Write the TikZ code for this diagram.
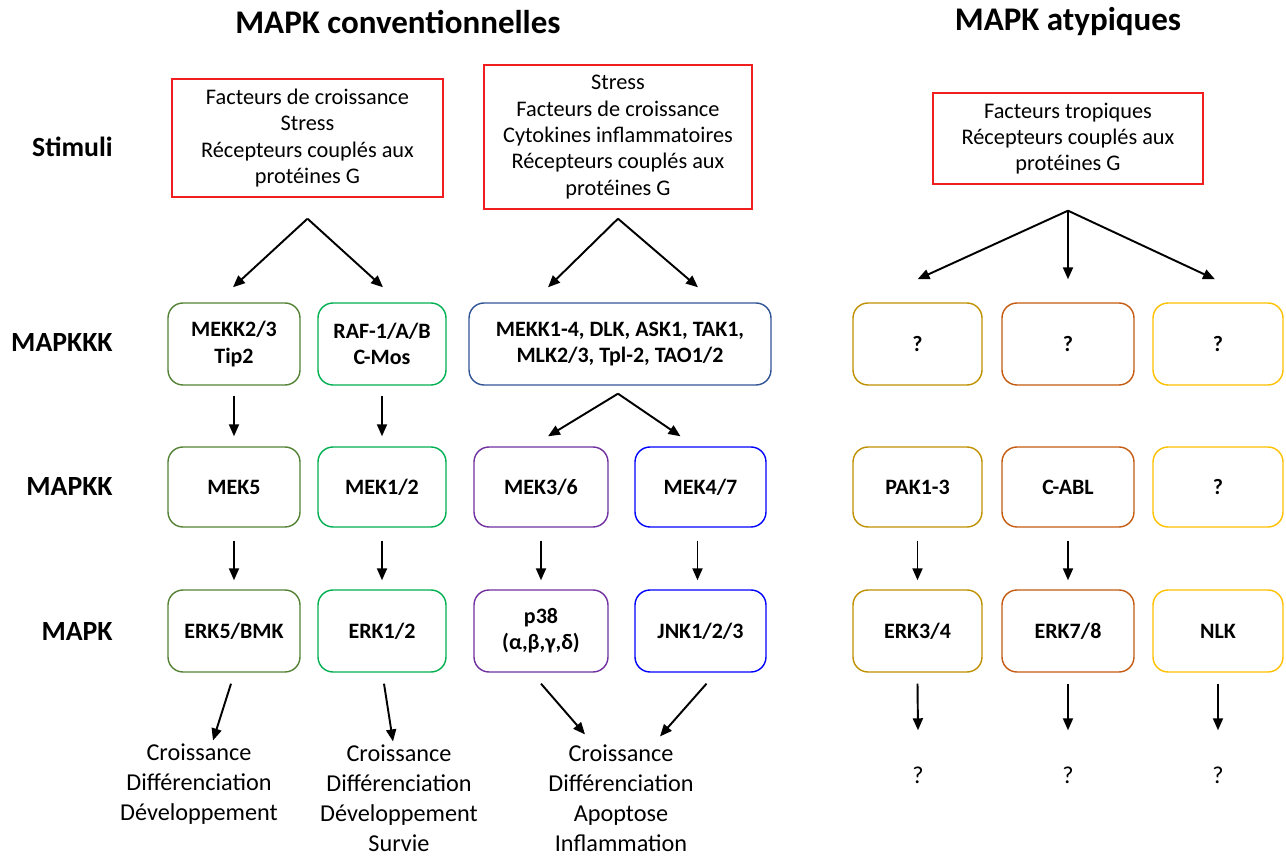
\documentclass[tikz,border=0pt]{standalone}
\usepackage{fontspec}
\setmainfont{Carlito}
\usetikzlibrary{calc}
\usetikzlibrary{arrows.meta}

\definecolor{cOlive}{RGB}{84,130,53}
\definecolor{cGreen}{RGB}{0,176,80}
\definecolor{cNavy}{RGB}{47,85,151}
\definecolor{cPurple}{RGB}{112,48,160}
\definecolor{cBlue}{RGB}{0,0,255}
\definecolor{cGold}{RGB}{191,144,0}
\definecolor{cOrange}{RGB}{197,90,17}
\definecolor{cYellow}{RGB}{255,192,0}
\definecolor{cRed}{RGB}{240,30,30}

\begin{document}
\begin{tikzpicture}[x=0.02cm,y=-0.02cm,
    kbox/.style={draw, rounded corners=0.3cm, line width=0.8pt, minimum width=2.64cm,
                 minimum height=1.64cm, align=center, inner sep=0pt,
                 font=\fontsize{12.5}{15}\selectfont\bfseries},
    stim/.style={draw=cRed, line width=0.8pt, align=center, inner sep=0pt,
                 font=\fontsize{12.7}{15}\selectfont},
    outc/.style={align=center, inner sep=0pt, font=\fontsize{13.8}{17}\selectfont},
    lvl/.style={anchor=east, inner sep=0pt, font=\fontsize{15.8}{18}\selectfont\bfseries},
    arr/.style={line width=1.1pt, -{Triangle[length=0.24cm,width=0.2cm]}}]
    \useasboundingbox (0,0) rectangle (1286,857);

    % Titles
    \node[font=\fontsize{18.8}{22}\selectfont\bfseries] (tconv) at (398,22) {MAPK conventionnelles};
    \node[font=\fontsize{18.8}{22}\selectfont\bfseries] (tatyp) at (1068,22) {MAPK atypiques};

    % Level labels
    \node[lvl] (lstim) at (113,147) {Stimuli};
    \node[lvl] (lkkk) at (113,343) {MAPKKK};
    \node[lvl] (lkk) at (113,487) {MAPKK};
    \node[lvl] (lk) at (113,632) {MAPK};

    % Stimuli boxes
    \node[stim, minimum width=5.42cm, minimum height=2.36cm] (stim1) at (307.5,138)
        {Facteurs de croissance\\Stress\\Récepteurs couplés aux\\protéines G};
    \node[stim, minimum width=5.36cm, minimum height=2.88cm] (stim2) at (618,137)
        {Stress\\Facteurs de croissance\\Cytokines inflammatoires\\Récepteurs couplés aux\\protéines G};
    \node[stim, minimum width=5.40cm, minimum height=1.82cm] (stim3) at (1068,138.5)
        {Facteurs tropiques\\Récepteurs couplés aux\\protéines G};

    % MAPKKK row
    \node[kbox, draw=cOlive] (mekk23) at (234,344) {MEKK2/3\\Tip2};
    \node[kbox, draw=cGreen, minimum width=2.56cm] (raf) at (382,344) {RAF-1/A/B\\C-Mos};
    \node[kbox, draw=cNavy, minimum width=6.04cm] (mekk14) at (620,344) {MEKK1-4, DLK, ASK1, TAK1,\\MLK2/3, Tpl-2, TAO1/2};
    \node[kbox, draw=cGold, minimum width=2.58cm] (qa) at (917.5,344) {?};
    \node[kbox, draw=cOrange] (qb) at (1068,344) {?};
    \node[kbox, draw=cYellow, minimum width=2.60cm] (qc) at (1218,344) {?};

    % MAPKK row
    \node[kbox, draw=cOlive, minimum height=1.60cm] (mek5) at (234,487) {MEK5};
    \node[kbox, draw=cGreen, minimum width=2.56cm, minimum height=1.60cm] (mek12) at (382,487) {MEK1/2};
    \node[kbox, draw=cPurple, minimum width=2.68cm, minimum height=1.60cm] (mek36) at (541,487) {MEK3/6};
    \node[kbox, draw=cBlue, minimum width=2.62cm, minimum height=1.60cm] (mek47) at (700.5,487) {MEK4/7};
    \node[kbox, draw=cGold, minimum width=2.58cm, minimum height=1.60cm] (pak) at (917.5,487) {PAK1-3};
    \node[kbox, draw=cOrange, minimum height=1.60cm] (cabl) at (1068,487) {C-ABL};
    \node[kbox, draw=cYellow, minimum width=2.60cm, minimum height=1.60cm] (qd) at (1218,487) {?};

    % MAPK row
    \node[kbox, draw=cOlive] (erk5) at (234,631) {ERK5/BMK};
    \node[kbox, draw=cGreen, minimum width=2.56cm] (erk12) at (382,631) {ERK1/2};
    \node[kbox, draw=cPurple, minimum width=2.68cm] (p38) at (541,631) {p38\\(α,β,γ,δ)};
    \node[kbox, draw=cBlue, minimum width=2.62cm] (jnk) at (700.5,631) {JNK1/2/3};
    \node[kbox, draw=cGold, minimum width=2.58cm] (erk34) at (917.5,631) {ERK3/4};
    \node[kbox, draw=cOrange] (erk78) at (1068,631) {ERK7/8};
    \node[kbox, draw=cYellow, minimum width=2.60cm] (nlk) at (1218,631) {NLK};

    % Outcomes
    \node[outc] (out1) at (199,784) {Croissance\\Différenciation\\Développement};
    \node[outc] (out2) at (399,798) {Croissance\\Différenciation\\Développement\\Survie};
    \node[outc] (out3) at (621,798) {Croissance\\Différenciation\\Apoptose\\Inflammation};
    \node[outc] (out4) at (918,775) {?};
    \node[outc] (out5) at (1068,775) {?};
    \node[outc] (out6) at (1218,775) {?};

    % Stimuli to MAPKKK
    \draw[arr] ($(stim1.south)+(0,21)$) -- ($(mekk23.north)+(-1,-15)$);
    \draw[arr] ($(stim1.south)+(0,21)$) -- ($(raf.north)+(1,-15)$);
    \draw[arr] ($(stim2.south)+(0,9)$) -- ($(mekk14.north)+(-72,-15)$);
    \draw[arr] ($(stim2.south)+(0,9)$) -- ($(mekk14.north)+(78,-15)$);
    \draw[arr] ($(stim3.south)+(0,26)$) -- ($(qa.north)+(0,-23)$);
    \draw[arr] ($(stim3.south)+(0,26)$) -- ($(qb.north)+(0,-23)$);
    \draw[arr] ($(stim3.south)+(0,26)$) -- ($(qc.north)+(-3,-23)$);

    % MAPKKK to MAPKK
    \draw[arr] ($(mekk23.south)+(0,10)$) -- ($(mek5.north)+(0,-10)$);
    \draw[arr] ($(raf.south)+(0,10)$) -- ($(mek12.north)+(0,-10)$);
    \draw[arr] ($(mekk14.south)+(-2,8)$) -- ($(mek36.north)+(7,-10)$);
    \draw[arr] ($(mekk14.south)+(-2,8)$) -- ($(mek47.north)+(-20,-10)$);

    % MAPKK to MAPK
    \draw[arr] ($(mek5.south)+(0,13)$) -- ($(erk5.north)+(0,-9)$);
    \draw[arr] ($(mek12.south)+(0,13)$) -- ($(erk12.north)+(0,-9)$);
    \draw[arr] ($(mek36.south)+(0,13)$) -- ($(p38.north)+(0,-9)$);
    \draw[arr] ($(mek47.south)+(-3,13)$) -- ($(jnk.north)+(-3,-9)$);
    \draw[arr] ($(pak.south)+(0,13)$) -- ($(erk34.north)+(0,-9)$);
    \draw[arr] ($(cabl.south)+(0,13)$) -- ($(erk78.north)+(0,-9)$);

    % MAPK to outcomes
    \draw[arr] ($(erk5.south)+(-3,11)$) -- ($(out1.north)+(14,-3)$);
    \draw[arr] ($(erk12.south)+(2,11)$) -- ($(out2.north)+(-6,-3)$);
    \draw[arr] ($(p38.south)+(0,11)$) -- ($(out3.north)+(-36,-10)$);
    \draw[arr] ($(jnk.south)+(6,11)$) -- ($(out3.north)+(39,-8)$);
    \draw[arr] ($(erk34.south)+(0,11)$) -- ($(out4.north)+(0,-36)$);
    \draw[arr] ($(erk78.south)+(0,11)$) -- ($(out5.north)+(0,-36)$);
    \draw[arr] ($(nlk.south)+(0,11)$) -- ($(out6.north)+(0,-36)$);
\end{tikzpicture}
\end{document}
